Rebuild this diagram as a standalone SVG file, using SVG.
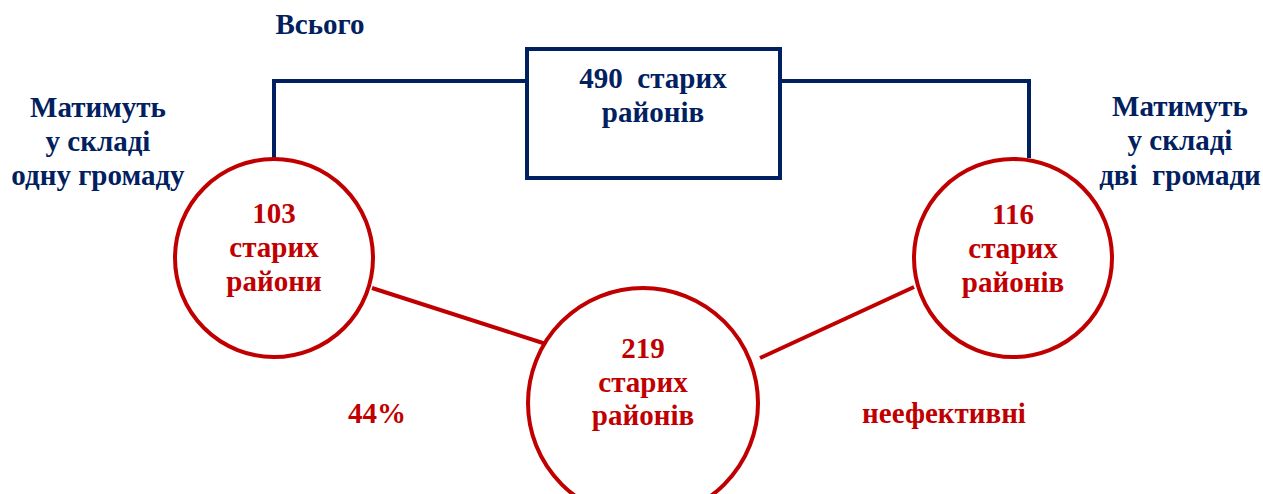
<svg xmlns="http://www.w3.org/2000/svg" width="1263" height="494" viewBox="0 0 1263 494">
<style>
text{font-family:"Liberation Serif","Times New Roman",serif;font-weight:bold;font-size:29px;text-anchor:middle}
.n{fill:#002060}
.r{fill:#C00000}
.nl{stroke:#002060;stroke-width:4;fill:none}
.rl{stroke:#C00000;stroke-width:4;fill:none}
.rc{stroke:#C00000;stroke-width:4;fill:#fff}
</style>
<rect width="1263" height="494" fill="#fff"/>
<g id="connectors">
<polyline class="nl" points="274,158 274,81 527,81"/>
<polyline class="nl" points="780,81 1029,81 1029,158"/>
<line class="rl" x1="372" y1="288" x2="546" y2="344"/>
<line class="rl" x1="760" y1="358" x2="914" y2="287"/>
</g>
<g id="total-label"><text class="n" x="320" y="34">Всього</text></g>
<g id="box-490">
<rect class="nl" x="527" y="49" width="253" height="129" fill="#fff"/>
<text class="n" x="653" y="88" xml:space="preserve">490  старих</text>
<text class="n" x="653" y="122">районів</text>
</g>
<g id="label-one">
<text class="n" x="98" y="117">Матимуть</text>
<text class="n" x="98" y="151">у складі</text>
<text class="n" x="98" y="185">одну громаду</text>
</g>
<g id="label-two">
<text class="n" x="1180" y="116">Матимуть</text>
<text class="n" x="1180" y="150">у складі</text>
<text class="n" x="1180" y="185" xml:space="preserve">дві  громади</text>
</g>
<g id="circle-103">
<circle class="rc" cx="274" cy="258" r="99"/>
<text class="r" x="274" y="223">103</text>
<text class="r" x="274" y="257">старих</text>
<text class="r" x="274" y="291">райони</text>
</g>
<g id="circle-116">
<circle class="rc" cx="1013" cy="258" r="99"/>
<text class="r" x="1013" y="224">116</text>
<text class="r" x="1013" y="258">старих</text>
<text class="r" x="1013" y="292">районів</text>
</g>
<g id="circle-219">
<circle class="rc" cx="643" cy="403" r="115"/>
<text class="r" x="643" y="358">219</text>
<text class="r" x="643" y="392">старих</text>
<text class="r" x="643" y="425">районів</text>
</g>
<g id="pct"><text class="r" x="377" y="423">44%</text></g>
<g id="ineff"><text class="r" x="944" y="423">неефективні</text></g>
</svg>
